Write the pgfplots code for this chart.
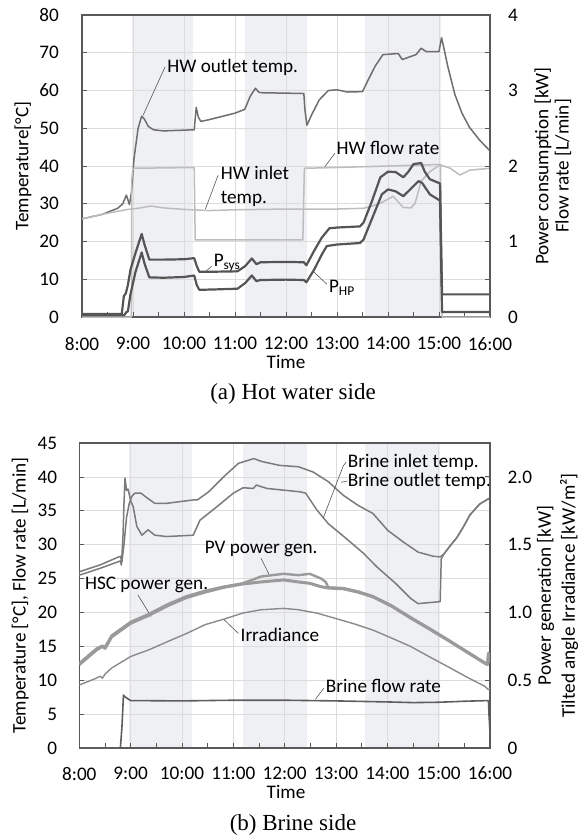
\documentclass[border=0pt]{standalone}
\usepackage{fontspec}
\setmainfont{Carlito}
\newfontfamily\capfont{Liberation Serif}
\usepackage{pgfplots}
\pgfplotsset{compat=1.18}
\definecolor{bandc}{HTML}{EEF0F3}
\definecolor{gridc}{HTML}{DCDCDC}
\definecolor{framec}{HTML}{595959}
\definecolor{outc}{HTML}{6E6E6E}
\definecolor{lightc}{HTML}{BDBDBD}
\definecolor{powc}{HTML}{555555}
\definecolor{brinec}{HTML}{7B7B7B}
\definecolor{genc}{HTML}{9A9A9A}
\definecolor{irrc}{HTML}{8A8A8A}
\definecolor{flowc}{HTML}{5E5E5E}
\definecolor{leadc}{HTML}{555555}
\newcommand{\lbl}{\fontsize{19.2}{22}\selectfont}

\pgfplotsset{
  bandaxis/.style={scale only axis, anchor=south west, xmin=8, xmax=16, hide axis},
  mainaxis/.style={scale only axis, anchor=south west, xmin=8, xmax=16,
    xtick={8,...,16}, minor xtick={8.5,9.5,...,15.5},
    xticklabels={8:00,9:00,10:00,11:00,12:00,13:00,14:00,15:00,16:00},
    xmajorgrids, ymajorgrids, grid style={draw=gridc, line width=0.8pt},
    axis line style={draw=framec, line width=1.2pt},
    tick style={draw=framec, line width=0.8pt},
    tick align=inside, major tick length=5pt, minor tick length=5pt,
    xtick pos=left, ytick pos=left,
    ticklabel style={font=\lbl, inner sep=0pt}},
  twinaxis/.style={scale only axis, anchor=south west, xmin=8, xmax=16,
    axis x line=none, axis y line*=right,
    axis line style={draw=framec, line width=1.2pt},
    tick style={draw=framec, line width=0.8pt},
    tick align=inside, major tick length=5pt,
    ticklabel style={font=\lbl, inner sep=0pt}},
}
\tikzset{txt/.style={anchor=west, font=\lbl, inner sep=0pt}}

\begin{document}
\begin{tikzpicture}
\useasboundingbox (0pt,0pt) rectangle (584pt,-838pt);

% ---------------- (a) Hot water side ----------------
\begin{axis}[bandaxis, at={(82pt,-317pt)}, width=408pt, height=302pt, ymin=0, ymax=80]
\addplot[fill=bandc, draw=none] coordinates {(8.98,0) (8.98,80) (10.18,80) (10.18,0)};
\addplot[fill=bandc, draw=none] coordinates {(11.19,0) (11.19,80) (12.42,80) (12.42,0)};
\addplot[fill=bandc, draw=none] coordinates {(13.55,0) (13.55,80) (15.04,80) (15.04,0)};
\end{axis}

\begin{axis}[mainaxis, at={(82pt,-317pt)}, width=408pt, height=302pt, ymin=0, ymax=80,
  ytick={0,10,...,80}, yticklabels={0,10,20,30,40,50,60,70,80},
  yticklabel style={xshift=-23pt}, xticklabel style={yshift=-20pt}]
% HW outlet temp.
\addplot[outc, line width=1.5pt, line join=round] coordinates {
(8.0,26.0) (8.4,27.2) (8.7,28.8) (8.8,30.0) (8.87,32.3) (8.93,29.8) (8.97,33)
(9.02,42) (9.1,50) (9.17,53.2) (9.22,52.5) (9.3,50.5) (9.4,49.6) (9.6,49.3)
(10.0,49.5) (10.2,49.6) (10.24,55.5) (10.28,53) (10.33,51.8) (10.5,52.3)
(11.0,54.0) (11.19,55.0) (11.3,58.5) (11.4,60.6) (11.47,59.5) (11.55,59.4)
(12.0,59.3) (12.35,59.2) (12.37,55) (12.41,50.8) (12.5,53.5) (12.65,57.5)
(12.83,60.0) (13.0,60.2) (13.2,59.6) (13.5,59.7) (13.6,62.5) (13.75,66.5)
(13.9,69.5) (14.2,69.8) (14.28,68.2) (14.4,68.8) (14.55,69.5) (14.65,71.2)
(14.75,70.3) (15.0,70.3) (15.05,74.0) (15.1,71) (15.17,66.5) (15.31,59)
(15.45,54) (15.6,50.2) (15.8,46.8) (16.0,44.0)};
% HW inlet temp.
\addplot[lightc, line width=1.5pt, line join=round] coordinates {
(8.0,26.0) (8.4,27.2) (8.7,28.0) (8.9,28.5) (9.1,28.8) (9.35,29.4) (9.6,28.9)
(10.0,28.5) (10.5,28.2) (11.0,28.4) (11.5,28.5) (12.0,28.6) (12.5,28.6)
(13.0,28.6) (13.52,28.8) (13.8,29.8) (13.97,31.0) (14.1,32.0) (14.2,30.5)
(14.3,29.0) (14.45,28.9) (14.53,30.1) (14.6,33.5) (14.65,36) (14.82,38.5)
(15.02,40.3) (15.22,39.4) (15.41,37.6) (15.6,38.9) (16.0,39.4)};
\node[txt] at (axis cs:9.67,66.0) {HW outlet temp.};
\draw[leadc, line width=0.6pt] (axis cs:9.63,66.3) -- (axis cs:9.2,53.5);
\node[txt] at (axis cs:10.72,38.1) {HW inlet};
\node[txt] at (axis cs:10.72,31.3) {temp.};
\draw[leadc, line width=0.6pt] (axis cs:10.67,37.6) -- (axis cs:10.42,28.6);
\node[txt] at (axis cs:12.99,44.7) {HW flow rate};
\draw[leadc, line width=0.6pt] (axis cs:12.96,43.4) -- (axis cs:12.76,39.8);
\node[txt] at (axis cs:10.58,14.3) {P\textsubscript{sys}};
\draw[leadc, line width=0.6pt] (axis cs:10.54,13.4) -- (axis cs:10.41,11.9);
\node[txt] at (axis cs:12.84,7.8) {P\textsubscript{HP}};
\draw[leadc, line width=0.6pt] (axis cs:12.8,8.7) -- (axis cs:12.54,12.0);
\end{axis}

\begin{axis}[twinaxis, at={(82pt,-317pt)}, width=408pt, height=302pt, ymin=0, ymax=4,
  ytick={0,0.5,...,4}, yticklabels={0,,1,,2,,3,,4}, yticklabel style={xshift=18pt}]
% HW flow rate
\addplot[lightc, line width=1.5pt, line join=round] coordinates {
(8.0,0) (8.97,0) (8.975,1.82) (9.0,1.97) (10.2,1.98) (10.22,1.02) (12.33,1.02)
(12.36,1.97) (13.0,1.98) (14.0,2.0) (15.0,2.02) (15.03,2.02) (15.06,0.0) (16.0,0.0)};
% P_sys
\addplot[powc, line width=2.2pt, line join=round] coordinates {
(8.0,0.04) (8.78,0.04) (8.82,0.275) (8.86,0.315) (8.9,0.425) (8.95,0.625)
(9.05,0.85) (9.17,1.1) (9.23,0.95) (9.32,0.76) (9.6,0.76) (10.0,0.765)
(10.2,0.78) (10.25,0.675) (10.3,0.6) (10.6,0.6) (11.05,0.605) (11.2,0.675)
(11.33,0.775) (11.42,0.7) (11.5,0.725) (12.0,0.73) (12.35,0.725) (12.4,0.685)
(12.55,0.875) (12.7,1.05) (12.85,1.175) (13.0,1.185) (13.45,1.2) (13.52,1.25)
(13.68,1.525) (13.85,1.85) (14.0,1.925) (14.15,1.92) (14.3,1.85) (14.4,1.925)
(14.5,2.025) (14.65,2.04) (14.72,1.925) (14.82,1.825) (15.0,1.775) (15.02,1.765)
(15.06,0.3) (16.0,0.3)};
% P_HP
\addplot[powc, line width=2.2pt, line join=round] coordinates {
(8.0,0.025) (8.83,0.025) (8.87,0.065) (8.9,0.075) (8.95,0.3) (9.05,0.6)
(9.17,0.855) (9.23,0.7) (9.32,0.525) (9.6,0.52) (10.0,0.53) (10.2,0.55)
(10.25,0.425) (10.3,0.36) (10.6,0.365) (11.05,0.375) (11.2,0.45) (11.33,0.55)
(11.42,0.475) (11.5,0.49) (12.0,0.495) (12.35,0.49) (12.4,0.46) (12.55,0.625)
(12.7,0.825) (12.8,0.94) (13.0,0.96) (13.45,0.98) (13.52,1.025) (13.7,1.325)
(13.88,1.625) (14.0,1.69) (14.15,1.665) (14.3,1.6) (14.45,1.7) (14.6,1.8)
(14.67,1.775) (14.82,1.625) (15.0,1.55) (15.02,1.54) (15.06,0.065) (16.0,0.065)};
\end{axis}

\node[font=\lbl] at (286pt,-362pt) {Time};
\node[font=\lbl, rotate=90] at (23pt,-166pt) {Temperature[°C]};
\node[font=\lbl, rotate=90] at (543pt,-166pt) {Power consumption [kW]};
\node[font=\lbl, rotate=90] at (563pt,-166pt) {Flow rate [L/min]};
\node[font=\capfont\fontsize{23}{26}\selectfont] at (293pt,-394pt) {(a) Hot water side};

% ---------------- (b) Brine side ----------------
\begin{axis}[bandaxis, at={(79.3pt,-748pt)}, width=410.7pt, height=305pt, ymin=0, ymax=45]
\addplot[fill=bandc, draw=none] coordinates {(8.97,0) (8.97,45) (10.2,45) (10.2,0)};
\addplot[fill=bandc, draw=none] coordinates {(11.19,0) (11.19,45) (12.43,45) (12.43,0)};
\addplot[fill=bandc, draw=none] coordinates {(13.56,0) (13.56,45) (15.02,45) (15.02,0)};
\end{axis}

\begin{axis}[mainaxis, at={(79.3pt,-748pt)}, width=410.7pt, height=305pt, ymin=0, ymax=45,
  ytick={0,5,...,45}, yticklabels={0,5,10,15,20,25,30,35,40,45},
  yticklabel style={xshift=-22pt}, xticklabel style={yshift=-18.7pt}]
% Brine inlet temp.
\addplot[brinec, line width=1.5pt, line join=round] coordinates {
(8.0,25.5) (8.4,26.5) (8.8,27.6) (8.82,27.0) (8.85,31) (8.87,36) (8.89,39.8)
(8.92,38.0) (8.95,38.2) (9.0,36.5) (9.05,35.6) (9.12,32.7) (9.22,31.4)
(9.34,32.2) (9.47,31.4) (9.7,31.2) (10.22,31.4) (10.35,33.6) (10.68,35.6)
(11.0,37.6) (11.19,38.4) (11.39,38.3) (11.45,38.8) (11.65,38.3) (12.3,37.8)
(12.41,37.6) (12.63,35.1) (12.85,33.1) (13.2,30.9) (13.54,28.7) (13.8,26.7)
(14.16,24.3) (14.45,22.1) (14.6,21.3) (14.74,21.4) (15.03,21.6) (15.05,27.9)
(15.1,28.6) (15.22,29.8) (15.35,31.0) (15.48,32.6) (15.61,34.4) (15.8,36.0) (16.0,36.9)};
% Brine outlet temp.
\addplot[brinec, line width=1.5pt, line join=round] coordinates {
(8.0,26.0) (8.4,27.0) (8.8,28.3) (8.83,27.5) (8.87,30) (8.92,34) (8.97,36)
(9.02,37.1) (9.08,37.6) (9.2,37.6) (9.34,36.8) (9.47,36.1) (9.7,36.1)
(10.22,36.6) (10.3,36.6) (10.52,37.8) (10.81,40.0) (11.1,42.0) (11.4,42.7)
(11.54,42.3) (11.9,41.7) (12.27,41.5) (12.56,40.7) (12.85,39.3) (13.14,37.3)
(13.43,35.8) (13.72,34.6) (14.01,32.1) (14.31,30.4) (14.6,28.9) (14.89,28.3)
(15.03,28.2) (15.1,28.6) (15.22,29.8) (15.35,31.0) (15.48,32.6) (15.61,34.4)
(15.8,36.0) (16.0,36.9)};
% Brine flow rate
\addplot[flowc, line width=1.6pt, line join=round] coordinates {
(8.0,0) (8.8,0) (8.83,3) (8.86,7.8) (8.9,7.5) (9.0,7.0) (10.0,6.95) (11.0,7.05)
(12.0,7.05) (12.5,7.0) (13.0,6.95) (14.0,6.8) (14.5,6.7) (15.0,6.75) (15.5,6.9)
(15.97,7.0) (15.98,5) (16.0,2.3)};
\node[txt] at (axis cs:13.23,42.2) {Brine inlet temp.};
\node[txt] at (axis cs:13.23,39.4) {Brine outlet temp.};
\draw[leadc, line width=0.6pt] (axis cs:13.2,42.2) -- (axis cs:13.14,41.6) -- (axis cs:12.75,33.9);
\draw[leadc, line width=0.6pt] (axis cs:13.22,39.4) -- (axis cs:13.1,39.2);
\node[txt] at (axis cs:10.44,29.4) {PV power gen.};
\draw[leadc, line width=0.6pt] (axis cs:11.54,28.0) -- (axis cs:11.69,25.7);
\node[txt] at (axis cs:8.11,24.0) {HSC power gen.};
\draw[leadc, line width=0.6pt] (axis cs:9.14,22.6) -- (axis cs:9.4,19.4);
\node[txt] at (axis cs:11.14,16.7) {Irradiance};
\draw[leadc, line width=0.6pt] (axis cs:11.1,16.9) -- (axis cs:10.81,19.0);
\node[txt] at (axis cs:12.8,9.2) {Brine flow rate};
\draw[leadc, line width=0.6pt] (axis cs:12.76,8.8) -- (axis cs:12.6,7.2);
\end{axis}

\begin{axis}[twinaxis, at={(79.3pt,-748pt)}, width=410.7pt, height=305pt, ymin=0, ymax=2.25,
  ytick={0,0.5,1,1.5,2}, yticklabels={0,0.5,1.0,1.5,2.0}, yticklabel style={xshift=17.5pt}]
% HSC power gen.
\addplot[genc, line width=3pt, line join=round] coordinates {
(8.0,0.615) (8.2,0.68) (8.34,0.725) (8.45,0.75) (8.5,0.735) (8.63,0.82)
(9.0,0.92) (9.36,0.98) (9.72,1.05) (10.09,1.11) (10.45,1.15) (10.81,1.185)
(11.18,1.21) (11.54,1.225) (11.98,1.24) (12.27,1.225) (12.49,1.215) (12.71,1.19)
(12.85,1.18) (13.14,1.175) (13.43,1.15) (13.72,1.115) (14.09,1.045) (14.45,0.96)
(14.81,0.88) (15.18,0.795) (15.54,0.71) (15.9,0.625) (15.95,0.615) (15.97,0.70) (16.0,0.63)};
% PV power gen.
\addplot[genc, line width=2.4pt, line join=round] coordinates {
(8.0,0.625) (8.2,0.69) (8.34,0.735) (8.45,0.755) (8.5,0.745) (8.63,0.83)
(9.0,0.93) (9.36,0.99) (9.72,1.06) (10.09,1.12) (10.45,1.16) (10.81,1.19)
(11.18,1.215) (11.4,1.245) (11.54,1.265) (11.98,1.285) (12.27,1.275) (12.49,1.285)
(12.71,1.25) (12.8,1.225) (12.85,1.185) (13.14,1.18) (13.43,1.155) (13.72,1.12)
(14.09,1.05) (14.45,0.965) (14.81,0.885) (15.18,0.80) (15.54,0.715) (15.9,0.63)
(15.95,0.62) (15.97,0.69) (16.0,0.64)};
% Irradiance
\addplot[irrc, line width=1.4pt, line join=round] coordinates {
(8.0,0.465) (8.3,0.51) (8.41,0.53) (8.45,0.515) (8.5,0.545) (8.63,0.59)
(9.0,0.675) (9.36,0.725) (9.72,0.785) (10.09,0.845) (10.45,0.91) (10.81,0.95)
(11.18,0.995) (11.54,1.02) (11.98,1.03) (12.27,1.02) (12.63,0.995) (13.0,0.955)
(13.36,0.915) (13.72,0.87) (14.09,0.81) (14.45,0.75) (14.81,0.675) (15.18,0.6)
(15.54,0.525) (15.9,0.455) (15.97,0.43) (16.0,0.44)};
\end{axis}

\node[font=\lbl] at (286pt,-791.5pt) {Time};
\node[font=\lbl, rotate=90] at (20.3pt,-595.5pt) {Temperature [°C], Flow rate [L/min]};
\node[font=\lbl, rotate=90] at (545.7pt,-595.5pt) {Power generation [kW]};
\node[font=\lbl, rotate=90] at (569pt,-595.5pt) {Tilted angle Irradiance [kW/m²]};
\node[font=\capfont\fontsize{23}{26}\selectfont] at (293pt,-825pt) {(b) Brine side};
\end{tikzpicture}
\end{document}
